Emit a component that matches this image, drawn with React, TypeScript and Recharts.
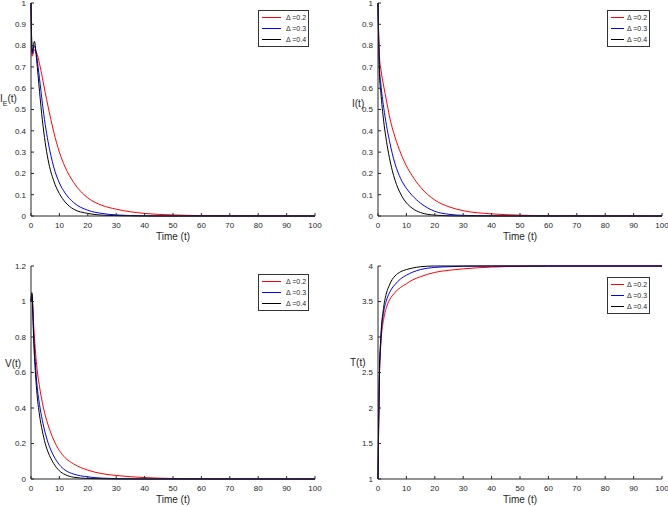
import React from 'react';
import { LineChart, Line, XAxis, YAxis, Legend, Label } from 'recharts';

// ---------- data ----------
const legendLabels = ['\u0394 =0.2', '\u0394 =0.3', '\u0394 =0.4'];
const seriesColors = ['#ff0000', '#0000ff', '#000000'];
const xTicks = [0, 10, 20, 30, 40, 50, 60, 70, 80, 90, 100];

// Panel 1: I_E(t)
const tIE = [0, 0.4, 1.2, 2, 3, 4, 5, 6, 8, 10, 12, 15, 20, 25, 30, 40, 50, 60, 70, 100];
const ieD02 = [1, 0.75, 0.78, 0.765, 0.715, 0.65, 0.58, 0.515, 0.395, 0.3, 0.23, 0.158, 0.085, 0.05, 0.032, 0.012, 0.005, 0.002, 0.001, 0];
const ieD03 = [1, 0.76, 0.8, 0.75, 0.645, 0.53, 0.43, 0.35, 0.23, 0.155, 0.108, 0.063, 0.027, 0.012, 0.005, 0.001, 0, 0, 0, 0];
const ieD04 = [1, 0.77, 0.82, 0.73, 0.585, 0.45, 0.345, 0.265, 0.165, 0.105, 0.066, 0.032, 0.012, 0.004, 0.002, 0, 0, 0, 0, 0];
const ieTicks = [0, 0.1, 0.2, 0.3, 0.4, 0.5, 0.6, 0.7, 0.8, 0.9, 1];

// Panel 2: I(t)
const tI = [0, 0.5, 1, 2, 3, 4, 5, 6, 8, 10, 12, 15, 20, 25, 30, 40, 50, 60, 100];
const iD02 = [1, 0.75, 0.69, 0.61, 0.54, 0.47, 0.415, 0.37, 0.295, 0.235, 0.19, 0.135, 0.075, 0.043, 0.025, 0.01, 0.004, 0.001, 0];
const iD03 = [1, 0.7, 0.62, 0.51, 0.425, 0.355, 0.295, 0.245, 0.175, 0.13, 0.097, 0.06, 0.022, 0.008, 0.003, 0.001, 0, 0, 0];
const iD04 = [1, 0.67, 0.58, 0.445, 0.35, 0.275, 0.215, 0.168, 0.103, 0.062, 0.037, 0.016, 0.004, 0.001, 0, 0, 0, 0, 0];
const iTicks = [0, 0.1, 0.2, 0.3, 0.4, 0.5, 0.6, 0.7, 0.8, 0.9, 1];

// Panel 3: V(t)
const tV = [0, 0.3, 1, 2, 3, 4, 5, 6, 8, 10, 12, 15, 20, 25, 30, 40, 50, 60, 100];
const vD02 = [1.0, 1.04, 0.85, 0.64, 0.52, 0.43, 0.36, 0.305, 0.22, 0.16, 0.12, 0.085, 0.05, 0.03, 0.02, 0.008, 0.003, 0.001, 0];
const vD03 = [1.0, 1.04, 0.8, 0.55, 0.42, 0.33, 0.26, 0.205, 0.13, 0.08, 0.05, 0.028, 0.012, 0.005, 0.002, 0, 0, 0, 0];
const vD04 = [1.0, 1.05, 0.76, 0.5, 0.36, 0.27, 0.2, 0.152, 0.087, 0.046, 0.025, 0.01, 0.003, 0.001, 0, 0, 0, 0, 0];
const vTicks = [0, 0.2, 0.4, 0.6, 0.8, 1, 1.2];

// Panel 4: T(t)
const tT = [0, 0.5, 1, 2, 3, 4, 5, 6, 8, 10, 12, 15, 20, 25, 30, 40, 50, 60, 100];
const tD02 = [1, 2.4, 2.9, 3.25, 3.42, 3.52, 3.58, 3.63, 3.7, 3.75, 3.8, 3.85, 3.91, 3.94, 3.96, 3.985, 3.995, 4, 4];
const tD03 = [1, 2.45, 2.95, 3.35, 3.52, 3.62, 3.69, 3.74, 3.82, 3.87, 3.91, 3.95, 3.98, 3.99, 3.997, 4, 4, 4, 4];
const tD04 = [1, 2.5, 3.0, 3.42, 3.62, 3.73, 3.81, 3.86, 3.92, 3.95, 3.97, 3.99, 4, 4, 4, 4, 4, 4, 4];
const tTicks = [1, 1.5, 2, 2.5, 3, 3.5, 4];

// ---------- helpers ----------
const FONT = '"Liberation Sans", Arial, Helvetica, sans-serif';
const AX = '#262626';

function buildRows(t: number[], a: number[], b: number[], c: number[]) {
  return t.map((x, i) => ({ t: x, d02: a[i], d03: b[i], d04: c[i] }));
}

type PanelProps = {
  left: number; top: number; width: number; height: number;
  margin: { top: number; right: number; bottom: number; left: number };
  yAxisWidth: number; xAxisHeight: number;
  rows: any[]; yTicks: number[]; yDomain: [number, number];
  yLabel: React.ReactNode; yLabelX: number; yLabelDy: number;
  xLabelDy: number;
  legendLeft: number; legendTop: number; legendLine: number; legendGap: number;
};

const LegendBox = ({ lineW, gap }: { lineW: number; gap: number }) => (
  <div style={{ border: '1px solid #333', background: '#fff', padding: '1px 2px 1px 3px', fontFamily: FONT, fontSize: 7, color: AX, lineHeight: '11px' }}>
    {legendLabels.map((lab, i) => (
      <div key={lab} style={{ display: 'flex', alignItems: 'center', height: 11, whiteSpace: 'nowrap' }}>
        <div style={{ width: lineW, height: 1, background: seriesColors[i], marginRight: gap, flex: 'none' }} />
        <span>{lab}</span>
      </div>
    ))}
  </div>
);

const Panel = (p: PanelProps) => {
  const keys = ['d02', 'd03', 'd04'];
  return (
    <div style={{ position: 'absolute', left: p.left, top: p.top }}>
      <LineChart width={p.width} height={p.height} data={p.rows} margin={p.margin}>
        <XAxis
          dataKey="t" type="number" domain={[0, 100]} ticks={xTicks} interval={0}
          height={p.xAxisHeight} tickSize={-3} tickMargin={9}
          stroke={AX} tick={{ fill: AX, fontSize: 8, fontFamily: FONT }}
        >
          <Label content={(lp: any) => {
            const vb = lp.viewBox;
            return (
              <text x={vb.x + vb.width / 2} y={vb.y + p.xLabelDy} textAnchor="middle" fontFamily={FONT} fontSize={10} fill={AX}>Time (t)</text>
            );
          }} />
        </XAxis>
        <XAxis
          xAxisId="top" orientation="top" dataKey="t" type="number" domain={[0, 100]} ticks={xTicks} interval={0}
          height={0} tickSize={-3} stroke={AX} tickFormatter={() => ''}
        />
        <YAxis
          type="number" domain={p.yDomain} ticks={p.yTicks} interval={0}
          width={p.yAxisWidth} tickSize={-3} tickMargin={8}
          stroke={AX} tick={{ fill: AX, fontSize: 8, fontFamily: FONT }}
        >
          <Label content={(lp: any) => {
            const vb = lp.viewBox;
            return (
              <text x={p.yLabelX} y={vb.y + vb.height / 2 + p.yLabelDy} fontFamily={FONT} fontSize={10} fill={AX}>{p.yLabel}</text>
            );
          }} />
        </YAxis>
        <YAxis
          yAxisId="right" orientation="right" type="number" domain={p.yDomain} ticks={p.yTicks} interval={0}
          width={0} tickSize={-3} stroke={AX} tickFormatter={() => ''}
        />
        <Legend
          layout="vertical" align="center" verticalAlign="middle"
          content={() => <LegendBox lineW={p.legendLine} gap={p.legendGap} />}
          wrapperStyle={{ left: p.legendLeft, top: p.legendTop, width: 'auto', height: 'auto' }}
        />
        {keys.map((k, i) => (
          <Line key={k} dataKey={k} type="monotone" stroke={seriesColors[i]} strokeWidth={1}
            dot={false} activeDot={false} isAnimationActive={false} />
        ))}
      </LineChart>
    </div>
  );
};

export default function App() {
  const ieRows = buildRows(tIE, ieD02, ieD03, ieD04);
  const iRows = buildRows(tI, iD02, iD03, iD04);
  const vRows = buildRows(tV, vD02, vD03, vD04);
  const tRows = buildRows(tT, tD02, tD03, tD04);
  return (
    <div style={{ position: 'absolute', left: 0, top: 0, width: 668, height: 507, background: '#fff', overflow: 'hidden' }}>
      <Panel left={0} top={0} width={334} height={245}
        margin={{ top: 3, right: 19, bottom: 0, left: 0 }} yAxisWidth={31} xAxisHeight={29}
        rows={ieRows} yTicks={ieTicks} yDomain={[0, 1]}
        yLabel={<><tspan>I</tspan><tspan dy={4} fontSize={7}>E</tspan><tspan dy={-4}>(t)</tspan></>}
        yLabelX={0} yLabelDy={-8} xLabelDy={24}
        legendLeft={258} legendTop={10} legendLine={19} legendGap={5} />
      <Panel left={334} top={0} width={334} height={245}
        margin={{ top: 3, right: 6, bottom: 0, left: 0 }} yAxisWidth={44} xAxisHeight={29}
        rows={iRows} yTicks={iTicks} yDomain={[0, 1]}
        yLabel="I(t)" yLabelX={18} yLabelDy={-3} xLabelDy={24}
        legendLeft={273} legendTop={10} legendLine={13} legendGap={3} />
      <Panel left={0} top={250} width={334} height={257}
        margin={{ top: 16, right: 19, bottom: 0, left: 0 }} yAxisWidth={31} xAxisHeight={28}
        rows={vRows} yTicks={vTicks} yDomain={[0, 1.2]}
        yLabel="V(t)" yLabelX={5} yLabelDy={-6} xLabelDy={24}
        legendLeft={258} legendTop={24} legendLine={19} legendGap={5} />
      <Panel left={334} top={250} width={334} height={257}
        margin={{ top: 16, right: 6, bottom: 0, left: 0 }} yAxisWidth={44} xAxisHeight={28}
        rows={tRows} yTicks={tTicks} yDomain={[1, 4]}
        yLabel="T(t)" yLabelX={16} yLabelDy={-7} xLabelDy={24}
        legendLeft={273} legendTop={27} legendLine={13} legendGap={3} />
    </div>
  );
}
